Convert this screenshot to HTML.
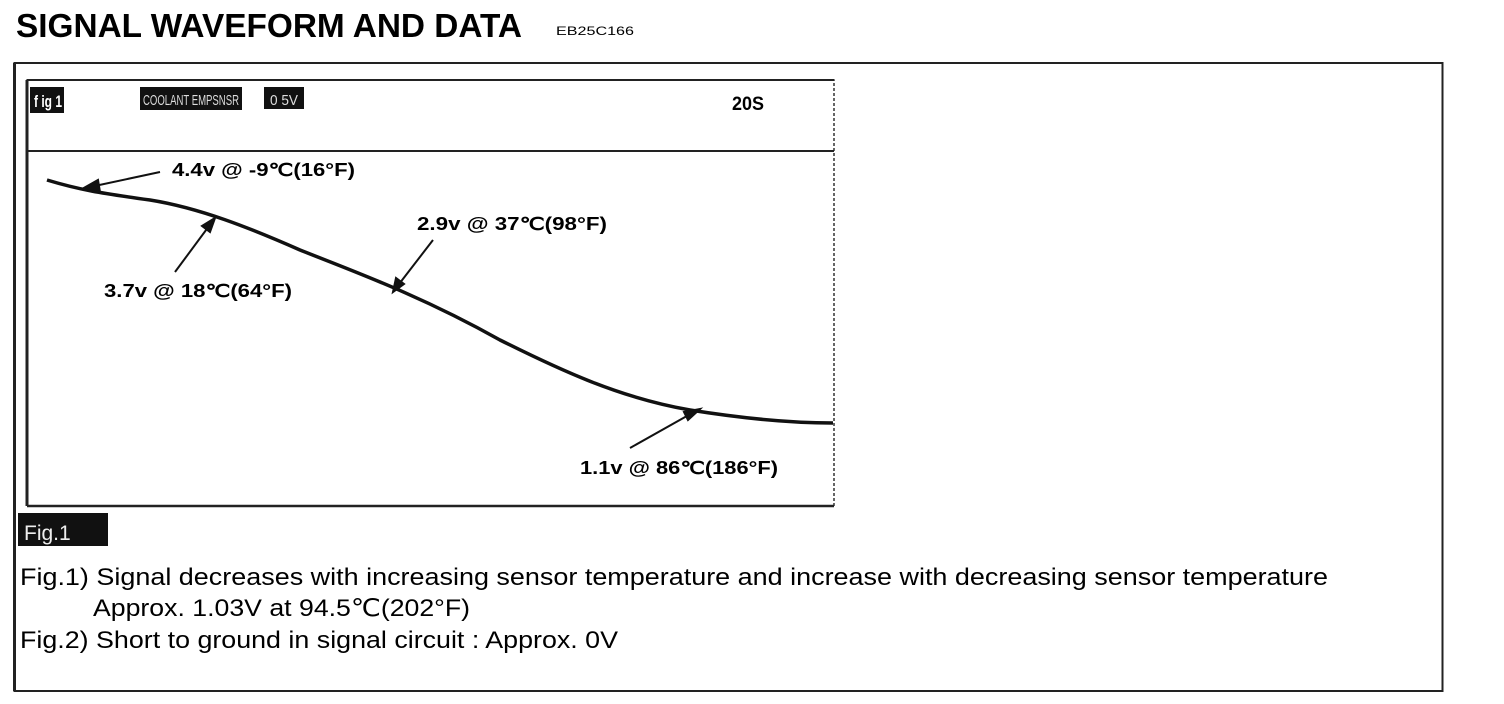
<!DOCTYPE html>
<html><head><style>
body{margin:0;width:1504px;height:704px;background:#fff;position:relative;overflow:hidden;font-family:"Liberation Sans",sans-serif;color:#111}
.a{position:absolute;white-space:nowrap}
</style></head><body>
<svg class="a" style="left:0;top:0" width="1504" height="704">
<text x="16" y="37" font-size="33" font-weight="bold" textLength="506" lengthAdjust="spacingAndGlyphs">SIGNAL  WAVEFORM  AND  DATA</text>
<text x="556" y="35" font-size="12" textLength="78" lengthAdjust="spacingAndGlyphs">EB25C166</text>
<rect x="14.5" y="63" width="1428" height="628" fill="none" stroke="#222" stroke-width="2"/>
<line x1="14.5" y1="63" x2="14.5" y2="691" stroke="#222" stroke-width="3"/>
<rect x="27" y="80" width="807" height="426" fill="none" stroke="#333" stroke-width="1.5" stroke-dasharray="3,2"/>
<line x1="27" y1="80" x2="834" y2="80" stroke="#222" stroke-width="2"/>
<line x1="27" y1="151" x2="834" y2="151" stroke="#222" stroke-width="2"/>
<line x1="27" y1="80" x2="27" y2="506" stroke="#222" stroke-width="3"/>
<line x1="27" y1="506" x2="834" y2="506" stroke="#222" stroke-width="2.5"/>
<rect x="30" y="87" width="34" height="26" fill="#111"/>
<rect x="140" y="87" width="102" height="23" fill="#111"/>
<rect x="264" y="87" width="40" height="22" fill="#111"/>
<text x="34" y="107" font-size="17" fill="#fff" font-weight="bold" textLength="28" lengthAdjust="spacingAndGlyphs">f ig 1</text>
<text x="143" y="105" font-size="15" fill="#ddd" textLength="96" lengthAdjust="spacingAndGlyphs">COOLANT  EMPSNSR</text>
<text x="270" y="105" font-size="15" fill="#ddd" textLength="28" lengthAdjust="spacingAndGlyphs">0 5V</text>
<text x="732" y="110" font-size="19" font-weight="bold" textLength="32" lengthAdjust="spacingAndGlyphs">20S</text>
<path d="M47,180 C80,190 100,193 150,200 C200,208 250,228 300,250 C350,270 420,295 500,340 C560,370 620,398 690,410 C740,418 790,423 833,423" fill="none" stroke="#111" stroke-width="3.5"/>
<g stroke="#111" stroke-width="2" fill="#111">
<line x1="160" y1="172" x2="90" y2="187"/><polygon points="82,189 98,180 100,192"/>
<line x1="175" y1="272" x2="212" y2="222"/><polygon points="215,218 210,232 202,226"/>
<line x1="433" y1="240" x2="396" y2="288"/><polygon points="393,292 396,278 404,284"/>
<line x1="630" y1="448" x2="694" y2="412"/><polygon points="700,409 688,420 684,412"/>
</g>
<g font-size="18" font-weight="bold">
<text x="172" y="176" textLength="183" lengthAdjust="spacingAndGlyphs">4.4v @ -9℃(16°F)</text>
<text x="417" y="230" textLength="190" lengthAdjust="spacingAndGlyphs">2.9v @ 37℃(98°F)</text>
<text x="104" y="297" textLength="188" lengthAdjust="spacingAndGlyphs">3.7v @ 18℃(64°F)</text>
<text x="580" y="474" textLength="198" lengthAdjust="spacingAndGlyphs">1.1v @ 86℃(186°F)</text>
</g>
<rect x="18" y="513" width="90" height="33" fill="#111"/>
<text x="24" y="540" font-size="21" fill="#eee">Fig.1</text>
<g font-size="24">
<text x="20" y="585" textLength="1308" lengthAdjust="spacingAndGlyphs">Fig.1) Signal decreases with increasing sensor temperature and increase with decreasing sensor temperature</text>
<text x="93" y="616" textLength="377" lengthAdjust="spacingAndGlyphs">Approx. 1.03V at 94.5℃(202°F)</text>
<text x="20" y="648" textLength="598" lengthAdjust="spacingAndGlyphs">Fig.2) Short to ground in signal circuit : Approx. 0V</text>
</g>
</svg>
</body></html>
